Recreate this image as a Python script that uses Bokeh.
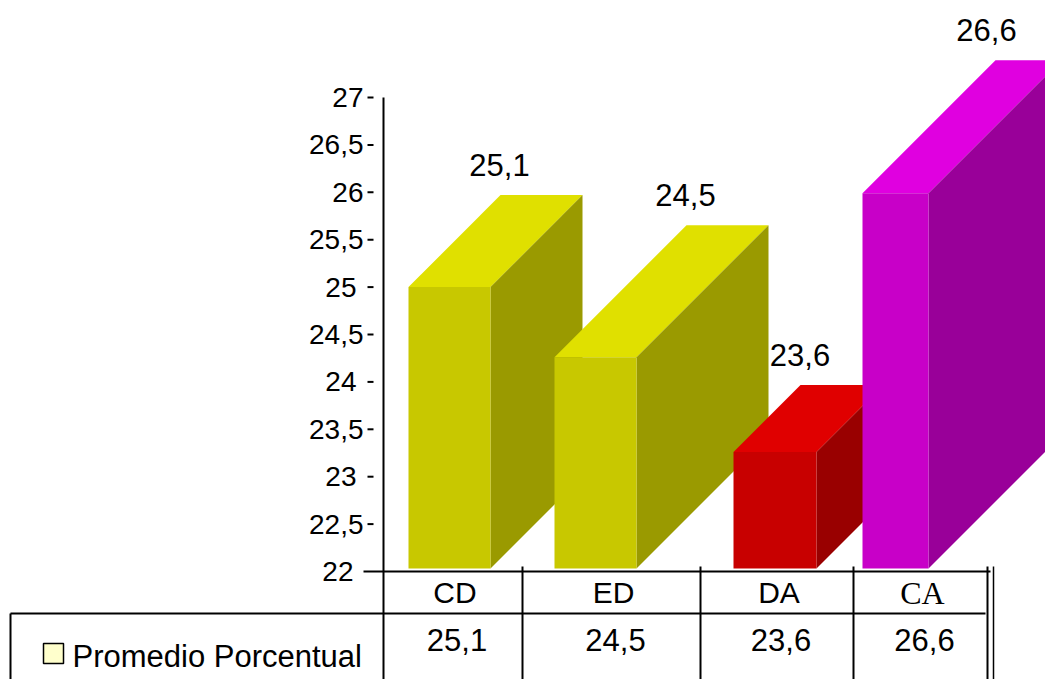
from bokeh.plotting import figure
from bokeh.models import Range1d, ColumnDataSource
from bokeh.embed import file_html
from bokeh.resources import INLINE
from bokeh.core.properties import value

# ---- data -------------------------------------------------------------
categories = ["CD", "ED", "DA", "CA"]
series_name = "Promedio Porcentual"
promedio = [25.1, 24.5, 23.6, 26.6]
value_labels = ["25,1", "24,5", "23,6", "26,6"]
tick_values = [22, 22.5, 23, 23.5, 24, 24.5, 25, 25.5, 26, 26.5, 27]
tick_labels = ["22", "22,5", "23", "23,5", "24", "24,5", "25", "25,5", "26", "26,5", "27"]

# ---- page geometry ----------------------------------------------------
W, H = 1045, 679
Y_MIN, Y_MAX = 22, 27
TOP_PX, BASE_PX = 97, 571                    # pixel rows of 27 and 22
PX_PER_UNIT = (BASE_PX - TOP_PX) / (Y_MAX - Y_MIN)
LIFT = -10                                   # raise text so its baseline sits on the target row


def vy(px):
    """pixel row -> value units on the y scale"""
    return Y_MIN + (BASE_PX - px) / PX_PER_UNIT


FONT = value("Liberation Sans")

p = figure(width=W, height=H, x_range=Range1d(0, W), y_range=Range1d(vy(H), vy(0)),
           output_backend="svg", toolbar_location=None, min_border=0,
           x_axis_location=None, y_axis_location=None)
p.grid.visible = False
p.outline_line_color = None
p.background_fill_color = "white"
p.border_fill_color = "white"

# ---- 3D bars ------------------------------------------------------------
bar_left = [408, 554, 733, 862]
bar_width = [82, 82, 83, 66]
bar_depth = [92, 132, 67, 133]              # oblique depth, pixels
front_sag = [0.10, 0.24, 0.34, 0.61]        # perspective drop of the front face
face_colors = [
    ("#E0E000", "#9A9A00", "#C8C800"),
    ("#E0E000", "#9A9A00", "#C8C800"),
    ("#E00000", "#990000", "#C80000"),
    ("#E000E0", "#990099", "#C800C8"),
]
bottom = vy(568)

xs, ys, fills = [], [], []
lab_x, lab_y = [], []
for i, v in enumerate(promedio):
    L, w, d = bar_left[i], bar_width[i], bar_depth[i]
    dv = d / PX_PER_UNIT
    t = v - front_sag[i]
    top_c, side_c, front_c = face_colors[i]
    # top face
    xs.append([L, L + w, L + w + d, L + d])
    ys.append([t, t, t + dv, t + dv])
    fills.append(top_c)
    # side face
    xs.append([L + w, L + w + d, L + w + d, L + w])
    ys.append([bottom, bottom + dv, t + dv, t])
    fills.append(side_c)
    # front face
    xs.append([L, L + w, L + w, L])
    ys.append([bottom, bottom, t, t])
    fills.append(front_c)
    lab_x.append(L + d + w / 2 - 42)
    lab_y.append(t + dv + 19 / PX_PER_UNIT)

p.patches(xs=xs, ys=ys, fill_color=fills, line_color=None)

p.text(x=lab_x, y=lab_y, text=value_labels, y_offset=LIFT - 1, text_font=FONT,
       text_font_size="31px", text_align="center", text_baseline="alphabetic",
       text_color="black")

# ---- value axis -----------------------------------------------------------
AXIS_X = 383
p.segment(x0=[AXIS_X], y0=[Y_MAX], x1=[AXIS_X], y1=[vy(H)], line_color="black", line_width=2)
p.segment(x0=[363], y0=[Y_MIN], x1=[990], y1=[Y_MIN], line_color="black", line_width=2)
dash_y = [t for t in tick_values if t != Y_MIN]
p.segment(x0=[367] * len(dash_y), y0=dash_y, x1=[373] * len(dash_y), y1=dash_y,
          line_color="black", line_width=2)
tick_off = [-7 if (float(t).is_integer() and Y_MIN < t < 26) else 0 for t in tick_values]
tick_off = [o - (10 if t == Y_MIN else 0) for o, t in zip(tick_off, tick_values)]
tick_src = ColumnDataSource(dict(x=[363] * len(tick_values), y=tick_values,
                                 text=tick_labels, xo=tick_off))
p.text(x="x", y="y", text="text", x_offset="xo", y_offset=10 + LIFT, source=tick_src,
       text_font=FONT, text_font_size="28px", text_align="right",
       text_baseline="alphabetic", text_color="black")

# ---- data table -----------------------------------------------------------
col_edges = [383, 522, 700, 853, 987]
col_mid = [(a + b) / 2 for a, b in zip(col_edges[:-1], col_edges[1:])]
ROW_LINE = vy(613)

p.segment(x0=[10], y0=[ROW_LINE], x1=[985], y1=[ROW_LINE], line_color="black", line_width=2)
p.segment(x0=[10], y0=[ROW_LINE], x1=[10], y1=[vy(H)], line_color="black", line_width=2)
inner = col_edges[1:]
p.segment(x0=inner, y0=[vy(566)] * len(inner), x1=inner, y1=[vy(H)] * len(inner),
          line_color="black", line_width=2)
p.segment(x0=[993], y0=[vy(566)], x1=[993], y1=[vy(H)], line_color="black", line_width=1.5)

head_font = ["Liberation Sans"] * 3 + ["Liberation Serif"]
head_size = ["30px"] * 3 + ["32px"]
head_src = ColumnDataSource(dict(x=[m + 2 for m in col_mid], y=[vy(602)] * 4,
                                 text=categories, font=head_font, size=head_size))
p.text(x="x", y="y", text="text", source=head_src, text_font="font", text_font_size="size",
       y_offset=LIFT, text_align="center", text_baseline="alphabetic", text_color="black")

p.text(x=[m + 4 for m in col_mid], y=[vy(650)] * 4, text=value_labels, text_font=FONT,
       y_offset=LIFT - 1, text_font_size="31px", text_align="center",
       text_baseline="alphabetic", text_color="black")

# legend key of the single series
p.quad(left=[43], right=[63], bottom=[vy(663)], top=[vy(643)], fill_color="#FFFFCC",
       line_color="black", line_width=1.5)
p.text(x=[72], y=[vy(666)], text=[series_name], y_offset=LIFT, text_font=FONT,
       text_font_size="31px", text_align="left", text_baseline="alphabetic",
       text_color="black")

open("out.html", "w").write(file_html(p, INLINE))
